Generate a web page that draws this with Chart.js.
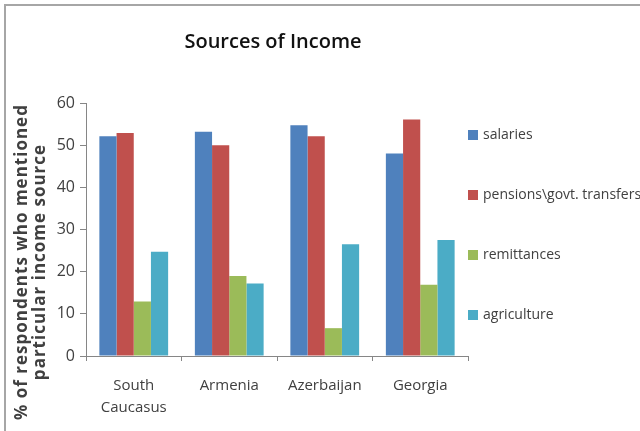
<!DOCTYPE html>
<html>
<head>
<meta charset="utf-8">
<script src="https://cdn.jsdelivr.net/npm/chart.js@4.4.1/dist/chart.umd.min.js"></script>
<style>
html, body { margin: 0; padding: 0; background: #fff; }
#wrap { width: 640px; height: 431px; position: relative; }
</style>
</head>
<body>
<div id="wrap"><canvas id="c"></canvas></div>
<script>
// data
const countries = [['South', 'Caucasus'], 'Armenia', 'Azerbaijan', 'Georgia'];
const seriesNames = ['salaries', 'pensions\\govt. transfers', 'remittances', 'agriculture'];
const salaries = [52.1, 53.2, 54.7, 48];
const pensions = [52.9, 50, 52.1, 56.1];
const remittances = [12.9, 19, 6.6, 16.9];
const agriculture = [24.7, 17.2, 26.5, 27.5];
const yTicks = [0, 10, 20, 30, 40, 50, 60];
const colors = ['#4F81BD', '#C0504D', '#9BBB59', '#4BACC6'];

const chartTitle = 'Sources of Income';
const yTitle = ['% of respondents who mentioned', 'particular income source'];

const FONT = "'Open Sans', sans-serif";

// title, rotated axis title, legend and frame drawn on the canvas
const extras = {
    id: 'extras',
    beforeDraw(chart) {
        const ctx = chart.ctx;
        ctx.save();
        ctx.fillStyle = '#fff';
        ctx.fillRect(0, 0, chart.width, chart.height);
        ctx.fillStyle = '#a6a6a6';
        ctx.fillRect(4, 4, chart.width - 4, 2);
        ctx.fillRect(4, 4, 2, chart.height - 4);
        ctx.restore();
    },
    afterDraw(chart) {
        const ctx = chart.ctx;
        ctx.save();
        ctx.fillStyle = '#111';
        ctx.textAlign = 'center';
        ctx.textBaseline = 'middle';
        ctx.font = '600 20px ' + FONT;
        ctx.fillText(chartTitle, 273, 42);

        // y axis title
        ctx.translate(31, 262);
        ctx.rotate(-Math.PI / 2);
        ctx.font = 'bold 17px ' + FONT;
        ctx.letterSpacing = '1px';
        ctx.fillStyle = '#404040';
        ctx.fillText(yTitle[0], 0, -9);
        ctx.fillText(yTitle[1], 0, 9);
        ctx.restore();

        // legend
        ctx.save();
        ctx.font = '14px ' + FONT;
        ctx.textBaseline = 'middle';
        ctx.textAlign = 'left';
        chart.data.datasets.forEach((ds, i) => {
            const y = 135 + i * 60;
            ctx.fillStyle = ds.backgroundColor;
            ctx.fillRect(468, y - 5, 10, 10);
            ctx.fillStyle = '#404040';
            ctx.fillText(ds.label, 483, y);
        });
        ctx.restore();
    }
};

const seriesData = [salaries, pensions, remittances, agriculture];

new Chart(document.getElementById('c'), {
    type: 'bar',
    data: {
        labels: countries,
        datasets: seriesData.map((d, i) => ({
            label: seriesNames[i],
            data: d,
            backgroundColor: colors[i],
            categoryPercentage: 0.72,
            barPercentage: 1.0
        }))
    },
    options: {
        responsive: true,
        maintainAspectRatio: false,
        animation: false,
        layout: { padding: { top: 103, right: 172, bottom: 0, left: 0 } },
        plugins: {
            legend: { display: false },
            title: { display: false },
            tooltip: { enabled: false }
        },
        scales: {
            x: {
                grid: { offset: true, drawOnChartArea: false, tickLength: 5, color: '#868686' },
                border: { color: '#868686' },
                ticks: { color: '#404040', font: { family: FONT, size: 15, lineHeight: 1.45 }, padding: 14, maxRotation: 0 },
                afterFit(scale) { scale.height = 75; }
            },
            y: {
                min: 0,
                max: 60,
                afterBuildTicks(scale) { scale.ticks = yTicks.map(v => ({ value: v })); },
                grid: { drawOnChartArea: false, tickLength: 6, color: '#868686' },
                border: { color: '#868686' },
                ticks: { color: '#404040', font: { family: FONT, size: 16 }, padding: 5 },
                afterFit(scale) { scale.width = 86; }
            }
        }
    },
    plugins: [extras]
});
</script>
</body>
</html>
